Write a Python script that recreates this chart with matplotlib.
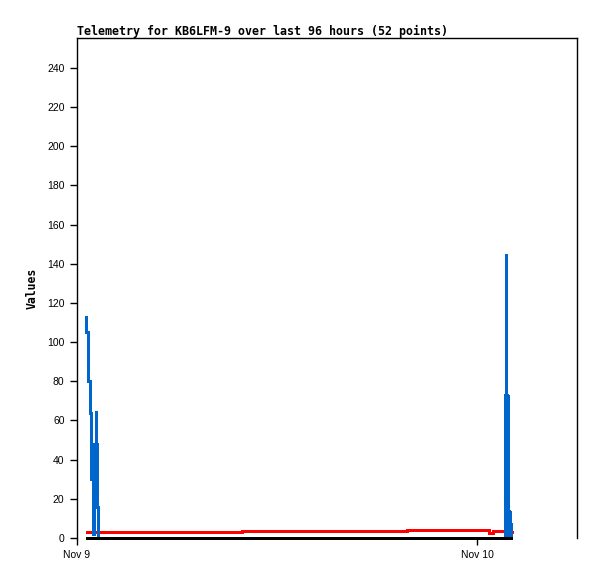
import matplotlib
matplotlib.use("Agg")
import matplotlib.pyplot as plt
import matplotlib.dates as mdates
import pandas as pd

base = pd.Timestamp("2023-11-09 00:00")

# Blue series (minutes after Nov 9 00:00, value)
blue_minutes = [31, 34, 38, 41, 45, 49, 52, 56, 59, 61, 64, 67, 69, 71, 74,
                1539, 1540, 1541, 1542, 1543, 1544, 1545, 1546, 1547, 1548, 1549,
                1550, 1551, 1552, 1553, 1554, 1555, 1556, 1557, 1558, 1559, 1560, 1562]
blue_values = [113, 105, 93, 80, 64, 47, 30, 14, 2, 48, 48, 65, 48, 16, 0,
               0, 73, 0, 73, 0, 73, 145, 73, 0, 73, 0,
               73, 0, 73, 14, 0, 14, 0, 14, 7, 0, 7, 0]

# Red series
red_minutes = [31, 594, 1188, 1483, 1498, 1541, 1570]
red_values = [2.9, 3.5, 3.9, 2.6, 3.5, 3.0, 3.0]

# Black series
black_minutes = [31, 600, 1200, 1565]
black_values = [0, 0, 0, 0]

title = "Telemetry for KB6LFM-9 over last 96 hours (52 points)"

def to_time(mins):
    return [base + pd.Timedelta(minutes=m) for m in mins]

fig = plt.figure(figsize=(5.97, 5.79), dpi=100)
ax = fig.add_axes([77/597, 41/579, 500/597, 500/579])

ax.plot(to_time(red_minutes), red_values, color="#ff0000", lw=2.0, zorder=2,
        drawstyle="steps-post", solid_capstyle="butt", antialiased=False)
ax.plot(to_time(blue_minutes), blue_values, color="#0066cc", lw=1.8, zorder=3,
        drawstyle="steps-post", solid_joinstyle="miter", antialiased=False,
        clip_on=False)
ax.plot(to_time(black_minutes), black_values, color="black", lw=1.8, zorder=4,
        solid_capstyle="butt", clip_on=False, antialiased=False)

ax.set_xlim(base, base + pd.Timedelta(hours=30))
ax.set_ylim(0, 255.3)
ax.set_yticks(range(0, 241, 20))
ax.xaxis.set_major_locator(mdates.DayLocator())
ax.xaxis.set_major_formatter(mdates.DateFormatter("%b %-d"))

ax.spines["bottom"].set_visible(False)
for s in ["left", "top", "right"]:
    ax.spines[s].set_linewidth(1.0)
ax.tick_params(axis="both", direction="out", length=5, width=1.0, pad=4,
               labelsize=7.5)
for lab in ax.get_xticklabels() + ax.get_yticklabels():
    lab.set_fontfamily("Liberation Sans")

ax.set_ylabel("Values", fontfamily="DejaVu Sans Mono", fontweight="bold",
              fontsize=8.3, labelpad=6)
ax.set_title(title, loc="left", fontfamily="DejaVu Sans Mono",
             fontweight="bold", fontsize=8.35, pad=2)

fig.savefig("out.png", dpi=100)
